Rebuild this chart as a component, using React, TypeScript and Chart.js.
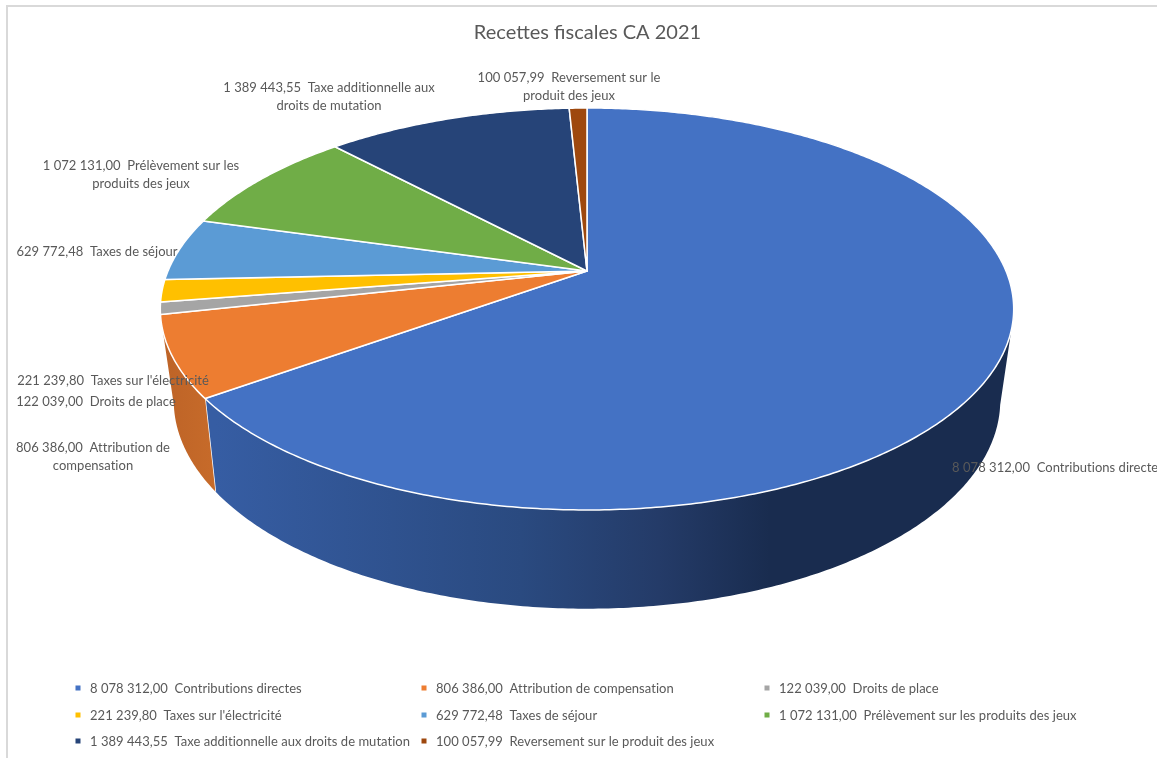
import React, { useEffect, useRef } from "react";
import { Chart, registerables } from "chart.js";

Chart.register(...registerables);

const categories = [
  "Contributions directes",
  "Attribution de compensation",
  "Droits de place",
  "Taxes sur l'électricité",
  "Taxes de séjour",
  "Prélèvement sur les produits des jeux",
  "Taxe additionnelle aux droits de mutation",
  "Reversement sur le produit des jeux",
];
const amounts = [8078312.0, 806386.0, 122039.0, 221239.8, 629772.48, 1072131.0, 1389443.55, 100057.99];
const sliceColors = ["#4472C4", "#ED7D31", "#A5A5A5", "#FFC000", "#5B9BD5", "#70AD47", "#264478", "#9E480E"];
const chartTitle = "Recettes fiscales CA 2021";

// Text of the callouts, wrapped the way each one is set on the chart.
const calloutSecondLines = ["", "compensation", "", "", "", "produits des jeux", "droits de mutation", "produit des jeux"];
const calloutFirstLines = ["Contributions directes", "Attribution de", "Droits de place", "Taxes sur l'électricité", "Taxes de séjour", "Prélèvement sur les", "Taxe additionnelle aux", "Reversement sur le"];

// Callout anchors: horizontal centre and vertical middle of the first line.
const calloutAnchors = [
  { x: 1058, y: 468 },
  { x: 93, y: 448 },
  { x: 96, y: 402 },
  { x: 113, y: 381 },
  { x: 97, y: 252 },
  { x: 141, y: 166 },
  { x: 329, y: 88 },
  { x: 569, y: 78 },
];

const legendColumns = [78, 424, 767];
const legendRows = [689, 716, 742];

const TEXT = "#595959";
const FONT = "Lato";

// Perspective projection of a unit disc seen from the front: far edge shrinks.
const topPlane = { cx: 587, cy: 271, rx: 419, ry: 193.8, k: 0.189 };
const basePlane = { cx: 587, cy: 359, rx: 405, ry: 200, k: 0.199 };
type Plane = typeof topPlane;

function project(p: Plane, chartAngle: number) {
  const u = Math.cos(chartAngle);
  const v = -Math.sin(chartAngle);
  const d = 1 + p.k * v;
  return { x: p.cx + (p.rx * u) / d, y: p.cy - (p.ry * v) / d };
}

function formatAmount(n: number) {
  const [whole, dec] = n.toFixed(2).split(".");
  return whole.replace(/\B(?=(\d{3})+(?!\d))/g, " ") + "," + dec;
}

// Only this stretch of the rim has a visible side wall (chart angles, radians).
const WALL_FROM = (12.7 * Math.PI) / 180;
const WALL_TO = (167.3 * Math.PI) / 180;

function rimPath(ctx: CanvasRenderingContext2D, p: Plane, a0: number, a1: number, move: boolean) {
  const steps = Math.max(2, Math.ceil(Math.abs(a1 - a0) / 0.01));
  for (let i = 0; i <= steps; i++) {
    const pt = project(p, a0 + ((a1 - a0) * i) / steps);
    if (i === 0 && move) ctx.moveTo(pt.x, pt.y);
    else ctx.lineTo(pt.x, pt.y);
  }
}

const pie3d = {
  id: "pie3d",
  beforeDatasetsDraw(chart: any) {
    const ctx: CanvasRenderingContext2D = chart.ctx;
    const arcs = chart.getDatasetMeta(0).data;

    const blueWall = ctx.createLinearGradient(216, 0, 770, 0);
    blueWall.addColorStop(0, "#365DA3");
    blueWall.addColorStop(0.55, "#2A4A80");
    blueWall.addColorStop(0.8, "#243B68");
    blueWall.addColorStop(1, "#192C4F");
    const orangeWall = ctx.createLinearGradient(160, 0, 216, 0);
    orangeWall.addColorStop(0, "#BD6327");
    orangeWall.addColorStop(1, "#C76B2A");
    const wallFills = [blueWall, orangeWall];

    ctx.save();
    // Side walls
    arcs.forEach((arc: any, i: number) => {
      const a0 = Math.max(arc.startAngle, WALL_FROM);
      const a1 = Math.min(arc.endAngle, WALL_TO);
      if (a1 <= a0) return;
      ctx.beginPath();
      rimPath(ctx, topPlane, a0, a1, true);
      rimPath(ctx, basePlane, a1, a0, false);
      ctx.closePath();
      ctx.fillStyle = wallFills[i] ?? sliceColors[i];
      ctx.fill();
      if (arc.endAngle < WALL_TO) {
        const a = project(topPlane, arc.endAngle);
        const b = project(basePlane, arc.endAngle);
        ctx.beginPath();
        ctx.moveTo(a.x, a.y);
        ctx.lineTo(b.x, b.y);
        ctx.strokeStyle = "#FFFFFF";
        ctx.lineWidth = 1.5;
        ctx.stroke();
      }
    });
    // Top faces
    arcs.forEach((arc: any, i: number) => {
      ctx.beginPath();
      ctx.moveTo(topPlane.cx, topPlane.cy);
      rimPath(ctx, topPlane, arc.startAngle, arc.endAngle, false);
      ctx.closePath();
      ctx.fillStyle = sliceColors[i];
      ctx.fill();
      ctx.strokeStyle = "#FFFFFF";
      ctx.lineWidth = 1.5;
      ctx.lineJoin = "round";
      ctx.stroke();
    });
    ctx.restore();
    return false;
  },
  afterDraw(chart: any) {
    const ctx: CanvasRenderingContext2D = chart.ctx;
    ctx.save();
    ctx.strokeStyle = "#D9D9D9";
    ctx.lineWidth = 2;
    ctx.strokeRect(7, 6, 1300, 1000);

    ctx.font = `13px ${FONT}`;
    (ctx as any).letterSpacing = "0.03px";
    ctx.textBaseline = "middle";
    ctx.fillStyle = TEXT;
    ctx.textAlign = "center";
    categories.forEach((_, i) => {
      const { x, y } = calloutAnchors[i];
      ctx.fillText(`${formatAmount(amounts[i])}  ${calloutFirstLines[i]}`, x, y);
      if (calloutSecondLines[i]) ctx.fillText(calloutSecondLines[i], x, y + 18);
    });

    // Three-column legend
    ctx.textAlign = "left";
    categories.forEach((name, i) => {
      const col = legendColumns[i % 3];
      const row = legendRows[Math.floor(i / 3)];
      ctx.fillStyle = sliceColors[i];
      ctx.fillRect(col - 2.5, row - 3.5, 5, 5);
      ctx.fillStyle = TEXT;
      ctx.fillText(`${formatAmount(amounts[i])}  ${name}`, col + 12, row);
    });
    ctx.restore();
  },
};

export default function App() {
  const ref = useRef<HTMLCanvasElement>(null);
  useEffect(() => {
    document.body.style.margin = "0";
    document.body.style.overflow = "hidden";
    const chart = new Chart(ref.current!, {
      type: "pie",
      data: {
        labels: categories,
        datasets: [{ data: amounts, backgroundColor: sliceColors, borderColor: "#FFFFFF" }],
      },
      plugins: [pie3d],
      options: {
        animation: false,
        responsive: false,
        layout: { padding: { left: 18 } },
        plugins: {
          legend: { display: false },
          tooltip: { enabled: false },
          title: {
            display: true,
            text: chartTitle,
            color: TEXT,
            font: { family: FONT, size: 20, weight: "normal" },
            padding: { top: 21, bottom: 10 },
          },
        },
      },
    });
    return () => chart.destroy();
  }, []);
  return <canvas ref={ref} width={1157} height={758} style={{ display: "block" }} />;
}
